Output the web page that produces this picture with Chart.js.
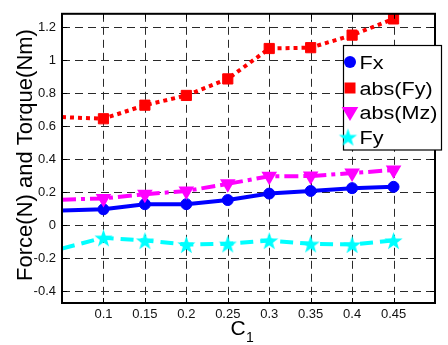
<!DOCTYPE html>
<html>
<head>
<meta charset="utf-8">
<script src="https://cdn.jsdelivr.net/npm/chart.js@4.4.0/dist/chart.umd.min.js"></script>
<style>
  html, body { margin: 0; padding: 0; background: #fff; }
  canvas { display: block; }
</style>
</head>
<body>
<canvas id="forceChart" width="448" height="345"></canvas>
<script>
// C1 values (first one sits on the left edge of the axes)
const c1Values = [0.05, 0.1, 0.15, 0.2, 0.25, 0.3, 0.35, 0.4, 0.45];

// Series
const fxValues    = [0.09, 0.097, 0.128, 0.128, 0.153, 0.192, 0.208, 0.225, 0.233];
const absFyValues = [0.655, 0.645, 0.727, 0.786, 0.886, 1.07, 1.075, 1.151, 1.249];
const absMzValues = [0.155, 0.163, 0.188, 0.208, 0.251, 0.297, 0.298, 0.316, 0.335];
const fyValues    = [-0.14, -0.075, -0.092, -0.116, -0.112, -0.092, -0.112, -0.116, -0.092];

const seriesLabels = ['Fx', 'abs(Fy)', 'abs(Mz)', 'Fy'];

// Tick positions and labels
const xTicks = [0.1, 0.15, 0.2, 0.25, 0.3, 0.35, 0.4, 0.45];
const xTickLabels = ['0.1', '0.15', '0.2', '0.25', '0.3', '0.35', '0.4', '0.45'];
const yTicks = [-0.4, -0.2, 0, 0.2, 0.4, 0.6, 0.8, 1, 1.2];
const yTickLabels = ['-0.4', '-0.2', '0', '0.2', '0.4', '0.6', '0.8', '1', '1.2'];

const FONT = '"Liberation Sans", Arial, Helvetica, sans-serif';

// filled five-point star, like Matlab's pentagram marker
function makeStar(radius, color) {
    const size = Math.ceil(radius * 2 + 2);
    const c = document.createElement('canvas');
    c.width = size;
    c.height = size;
    const g = c.getContext('2d');
    const cx = size / 2, cy = size / 2 + 1;
    const inner = radius * 0.4;
    g.beginPath();
    for (let i = 0; i < 10; i++) {
        const r = i % 2 === 0 ? radius : inner;
        const a = -Math.PI / 2 + i * Math.PI / 5;
        g.lineTo(cx + r * Math.cos(a), cy + r * Math.sin(a));
    }
    g.closePath();
    g.fillStyle = color;
    g.fill();
    return c;
}

const starMarker = makeStar(9.5, '#00ffff');

function toPoints(values) {
    return values.map((v, i) => ({ x: c1Values[i], y: v }));
}

// hide the marker on the clipped edge point
function markerSize(size) {
    return ctx => (ctx.raw && ctx.raw.x < 0.07 ? 0 : size);
}

// dashed Matlab-style grid, drawn under the lines
const dashedGrid = {
    id: 'dashedGrid',
    beforeDatasetsDraw(chart) {
        const ctx = chart.ctx;
        const area = chart.chartArea;
        const xs = chart.scales.x, ys = chart.scales.y;
        ctx.save();
        ctx.strokeStyle = '#2a2a2a';
        ctx.lineWidth = 1;
        ctx.setLineDash([8, 5]);
        ctx.beginPath();
        xTicks.forEach(t => {
            const px = Math.round(xs.getPixelForValue(t)) + 0.5;
            ctx.moveTo(px, area.top);
            ctx.lineTo(px, area.bottom);
        });
        yTicks.forEach(t => {
            const py = Math.round(ys.getPixelForValue(t)) + 0.5;
            ctx.moveTo(area.left, py);
            ctx.lineTo(area.right, py);
        });
        ctx.stroke();
        ctx.restore();
    }
};

// axes box, inside tick marks, titles and the boxed legend
const matlabFrame = {
    id: 'matlabFrame',
    afterDraw(chart) {
        const ctx = chart.ctx;
        const area = chart.chartArea;
        const xs = chart.scales.x, ys = chart.scales.y;
        ctx.save();

        // tick marks
        ctx.strokeStyle = '#000';
        ctx.lineWidth = 1;
        ctx.beginPath();
        xTicks.forEach(t => {
            const px = Math.round(xs.getPixelForValue(t)) + 0.5;
            ctx.moveTo(px, area.bottom);
            ctx.lineTo(px, area.bottom - 5);
            ctx.moveTo(px, area.top);
            ctx.lineTo(px, area.top + 5);
        });
        yTicks.forEach(t => {
            const py = Math.round(ys.getPixelForValue(t)) + 0.5;
            ctx.moveTo(area.left, py);
            ctx.lineTo(area.left + 5, py);
            ctx.moveTo(area.right, py);
            ctx.lineTo(area.right - 5, py);
        });
        ctx.stroke();

        // box
        ctx.lineWidth = 2;
        ctx.strokeRect(area.left, area.top, area.right - area.left, area.bottom - area.top);

        // y title
        ctx.fillStyle = '#000';
        ctx.font = '22px ' + FONT;
        ctx.textAlign = 'center';
        ctx.textBaseline = 'alphabetic';
        ctx.save();
        ctx.translate(32, 155);
        ctx.rotate(-Math.PI / 2);
        ctx.fillText('Force(N) and Torque(Nm)', 0, 0);
        ctx.restore();

        // x title C with subscript 1
        ctx.textAlign = 'left';
        ctx.font = '21px ' + FONT;
        ctx.fillText('C', 230.5, 334.5);
        ctx.font = '14px ' + FONT;
        ctx.fillText('1', 246, 341.5);

        // legend
        const box = { x: 343, y: 45.5, w: 98, h: 104.5 };
        ctx.fillStyle = '#fff';
        ctx.fillRect(box.x, box.y, box.w, box.h);
        ctx.strokeStyle = '#000';
        ctx.lineWidth = 1.2;
        ctx.strokeRect(box.x + 0.5, box.y, box.w, box.h);

        const rows = [62, 88, 112, 137];
        const mx = 350;
        // Fx circle
        ctx.fillStyle = '#0000ff';
        ctx.beginPath();
        ctx.arc(mx, rows[0], 6, 0, Math.PI * 2);
        ctx.fill();
        // abs(Fy) square
        ctx.fillStyle = '#ff0000';
        ctx.fillRect(mx - 5.5, rows[1] - 5.5, 11, 11);
        // abs(Mz) down triangle
        ctx.fillStyle = '#ff00ff';
        ctx.beginPath();
        ctx.moveTo(mx - 8.3, rows[2] - 5);
        ctx.lineTo(mx + 8.3, rows[2] - 5);
        ctx.lineTo(mx, rows[2] + 9);
        ctx.closePath();
        ctx.fill();
        // Fy star
        ctx.drawImage(starMarker, mx - 2 - starMarker.width / 2, rows[3] - starMarker.height / 2);

        ctx.fillStyle = '#000';
        ctx.font = '18px ' + FONT;
        seriesLabels.forEach((label, i) => {
            ctx.save();
            ctx.translate(359.5, rows[i] + 6.5);
            ctx.scale(1.2, 1);
            ctx.fillText(label, 0, 0);
            ctx.restore();
        });

        ctx.restore();
    }
};

new Chart(document.getElementById('forceChart'), {
    type: 'line',
    data: {
        datasets: [
            {
                label: seriesLabels[0],
                data: toPoints(fxValues),
                borderColor: '#0000ff',
                backgroundColor: '#0000ff',
                borderWidth: 4,
                pointStyle: 'circle',
                pointRadius: markerSize(5.5),
                pointBorderWidth: 1,
                pointBorderColor: '#0000ff',
                order: 4
            },
            {
                label: seriesLabels[1],
                data: toPoints(absFyValues),
                borderColor: '#ff0000',
                backgroundColor: '#ff0000',
                borderWidth: 4,
                borderDash: [4, 4],
                pointStyle: 'rect',
                pointRadius: markerSize(7.2),
                pointBorderWidth: 1,
                pointBorderColor: '#ff0000',
                order: 3
            },
            {
                label: seriesLabels[2],
                data: toPoints(absMzValues),
                borderColor: '#ff00ff',
                backgroundColor: '#ff00ff',
                borderWidth: 4,
                borderDash: [14, 5, 4, 5],
                pointStyle: 'triangle',
                rotation: 180,
                pointRadius: markerSize(9),
                pointBorderWidth: 0,
                order: 2
            },
            {
                label: seriesLabels[3],
                data: toPoints(fyValues),
                borderColor: '#00ffff',
                backgroundColor: '#00ffff',
                borderWidth: 4,
                borderDash: [13, 7],
                pointStyle: starMarker,
                pointRadius: markerSize(9),
                order: 1
            }
        ]
    },
    options: {
        responsive: false,
        animation: false,
        devicePixelRatio: 1,
        layout: { padding: { top: 6, right: 2, left: 0, bottom: 0 } },
        plugins: {
            legend: { display: false },
            tooltip: { enabled: false }
        },
        elements: { line: { tension: 0, borderCapStyle: 'butt' } },
        scales: {
            x: {
                type: 'linear',
                min: 0.05,
                max: 0.5,
                afterBuildTicks: scale => { scale.ticks = xTicks.map(v => ({ value: v })); },
                afterFit: scale => { scale.height = 42; },
                grid: { display: false, drawTicks: false },
                border: { display: false },
                ticks: {
                    padding: 4,
                    color: '#111',
                    font: { family: FONT, size: 13 },
                    maxRotation: 0,
                    callback: (v, i) => xTickLabels[i]
                }
            },
            y: {
                type: 'linear',
                min: -0.47,
                max: 1.28,
                afterBuildTicks: scale => { scale.ticks = yTicks.map(v => ({ value: v })); },
                afterFit: scale => { scale.width = 62; },
                grid: { display: false, drawTicks: false },
                border: { display: false },
                ticks: {
                    padding: 6,
                    color: '#111',
                    font: { family: FONT, size: 13 },
                    callback: (v, i) => yTickLabels[i]
                }
            }
        }
    },
    plugins: [dashedGrid, matlabFrame]
});
</script>
</body>
</html>
